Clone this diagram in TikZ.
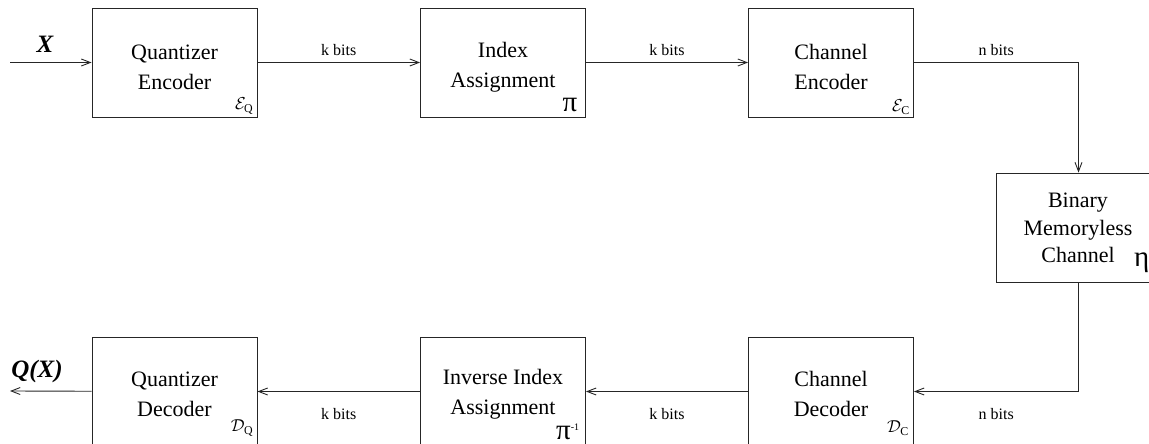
\documentclass[tikz,border=0pt]{standalone}
\usepackage{fontspec}
\setmainfont{Liberation Serif}
\usetikzlibrary{arrows.meta}
\begin{document}
\begin{tikzpicture}[x=1pt,y=-1pt,
  blk/.style={draw=black!85, line width=0.9pt, minimum width=165pt, minimum height=109pt, inner sep=0pt},
  lbl/.style={font=\fontsize{22}{30}\selectfont, align=center, inner sep=0pt},
  lbl3/.style={font=\fontsize{22}{27.5}\selectfont, align=center, inner sep=0pt},
  bits/.style={font=\fontsize{16}{18}\selectfont, inner sep=0pt},
  sub/.style={font=\fontsize{17}{18}\selectfont, inner sep=0pt},
  sym/.style={font=\fontsize{29}{30}\selectfont, inner sep=0pt},
  sig/.style={font=\fontsize{25}{28}\selectfont\bfseries\itshape, inner sep=0pt},
  link/.style={draw=black!85, line width=0.9pt, -{Straight Barb[length=9pt,width=7pt,line width=0.9pt]}}]
\useasboundingbox (0,0) rectangle (1149,444);

% encoder chain
\node[blk] (qe) at (174.5,62.5) {};
\node[blk] (ia) at (503,62.5) {};
\node[blk] (ce) at (831,62.5) {};
% channel
\node[blk] (ch) at (1078.5,227.5) {};
% decoder chain
\node[blk] (cd) at (831,391.5) {};
\node[blk] (iid) at (503,391.5) {};
\node[blk] (qd) at (174.5,391.5) {};

% block texts
\node[lbl] (qet) at (174.5,67) {Quantizer\\Encoder};
\node[lbl] (iat) at (503,67) {Index\\Assignment};
\node[lbl] (cet) at (831,67) {Channel\\Encoder};
\node[lbl3] (cht) at (1078,228) {Binary\\Memoryless\\Channel};
\node[lbl] (cdt) at (831,394) {Channel\\Decoder};
\node[lbl] (iidt) at (503,394) {Inverse Index\\Assignment};
\node[lbl] (qdt) at (174.5,394) {Quantizer\\Decoder};

% operator symbols
\node[sub, anchor=south east] (qes) at ([xshift=-4pt,yshift=3pt]qe.south east) {$\mathcal{E}_{\mathrm{Q}}$};
\node[sym, anchor=base] (ias) at (570,111) {π};
\node[sub, anchor=south east] (ces) at ([xshift=-4pt,yshift=3pt]ce.south east) {$\mathcal{E}_{\mathrm{C}}$};
\node[sym, anchor=base west] (chs) at (1134,266) {η};
\node[sub] (cds) at (898,428) {$\mathcal{D}_{\mathrm{C}}$};
\node[sym, anchor=base west] (iids) at (556,439) {π\raisebox{9pt}{\fontsize{10}{10}\selectfont -1}};
\node[sub] (qds) at (242,428) {$\mathcal{D}_{\mathrm{Q}}$};

% source and reconstruction
\coordinate (in) at (10,62.5);
\coordinate (out) at (10,391);
\node[sig] (x) at (45,44) {X};
\node[sig] (qx) at (37,371) {Q(X)};

% connectors
\draw[link] (in) -- (qe);
\draw[link] (qe) -- node[bits, above=6pt] (b1) {k bits} (ia);
\draw[link] (ia) -- node[bits, above=6pt] (b2) {k bits} (ce);
\draw[link] (ce.east) -| node[bits, pos=0.25, above=6pt] (b3) {n bits} (ch.north);
\draw[link] (ch.south) |- node[bits, pos=0.75, below=16pt] (b4) {n bits} (cd.east);
\draw[link] (cd) -- node[bits, below=16pt] (b5) {k bits} (iid);
\draw[link] (iid) -- node[bits, below=16pt] (b6) {k bits} (qd);
\draw[link] (qd) -- (out);
\end{tikzpicture}
\end{document}
